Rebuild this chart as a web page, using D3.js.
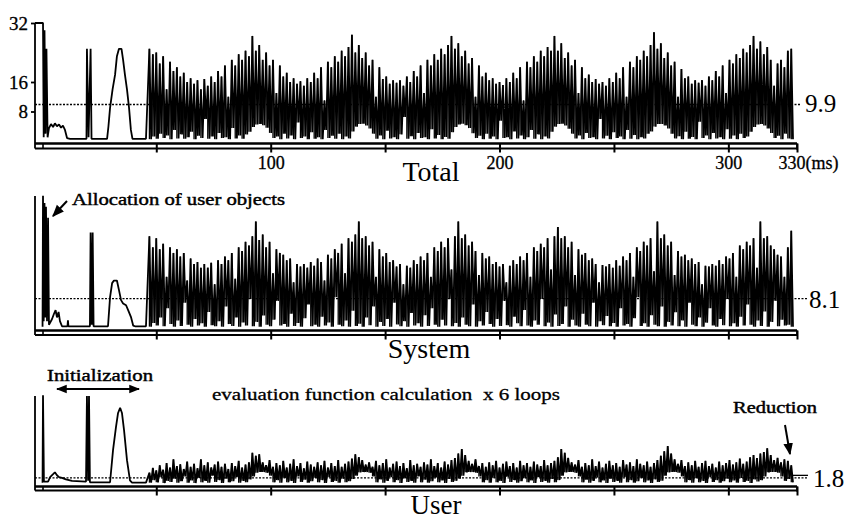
<!DOCTYPE html>
<html><head><meta charset="utf-8">
<script src="https://cdn.jsdelivr.net/npm/d3@7"></script>
<style>
body{margin:0;background:#fff}
svg{display:block}
text{font-family:"Liberation Serif","Times New Roman",serif;fill:#000}
</style>
</head><body>
<svg id="chart" width="849" height="519"></svg>
<script>
// ---------------- DATA ----------------
const panelNames = ["Total", "System", "User"];
const meanValues = [9.9, 8.1, 1.8];
const xTickValues = [50, 100, 150, 200, 250, 300, 330];
const xTickLabels = {100: "100", 200: "200", 300: "300", 330: "330(ms)"};
const yTickValues = [8, 16, 32];
const loopStart = 47;   // ms, first sample of the evaluation loops
const loopStep = 1.5;   // ms between samples

// Initialization phase (time in ms, value)
const totalInitT = [-3,0.5,0.8,1.15,1.6,2.0,2.5,3.1,4.0,4.9,5.7,6.6,7.5,8.4,9.2,10.1,11.0,12.3,19.5,19.7,20.4,21.3,21.7,28.5,29.1,29.8,30.9,32.0,32.8,33.7,34.8,35.5,36.3,37.2,38.1,38.9,39.6,45.5];
const totalInitV = [32,32,1,30,2,25,1,3.5,4.6,3.8,4.8,4.0,4.5,3.6,4.2,3.0,0.8,0.6,0.6,25,1,25,0.6,0.6,4,9,14,18,23,25,25,22,18,14,9,3,0.6,0.6];
const systemInitT = [0.3,0.5,0.8,1.15,1.5,1.8,2.25,2.7,3.1,4.4,5.3,6.0,6.6,7.3,7.9,8.8,11.2,11.4,11.6,21.0,21.3,21.8,22.2,22.6,28.9,29.8,30.7,31.5,32.8,33.7,34.6,35.5,36.8,37.7,39.0,39.9,40.7,45.5];
const systemInitV = [0.5,36,2,34,3,33,2,30,1,2.5,4,5,3,4.5,2,0.6,0.6,2.2,0.6,0.6,26,1,26,0.6,0.6,8.5,12.3,13,13,10.4,7.7,6.8,6.3,5,3,0.8,0.6,0.6];
const userInitT = [0.3,0.5,0.9,2.7,3.6,4.9,5.7,6.6,7.5,8.8,10.5,13.2,19.3,19.7,20.2,20.6,21.0,29.8,31.1,32.4,33.3,34.2,35.0,35.9,37.2,38.5,39.4,45.5];
const userInitV = [0.5,24.2,0.8,0.8,2,2.8,3.3,2.5,2,1.8,1.4,1.0,0.8,24,1,24,0.6,0.6,9.3,15.6,19.4,20.8,19.4,14.8,6.6,1.1,0.5,0.5];

// Evaluation loops: spike highs and lows per sample
const totalHi = [25,23.5,24,21,23,14,21.5,19,20,17.5, 18.5,16,17,15.5,16.5,14,16.8,15,17.5,16, 19,17.5,20.5,12,22,20.5,23.5,22,24.5,23,
 28.5,24.5,26,22,24,20.5,22,13,20.5,17.5, 18.5,16,17,15.5,16.2,15,17,16,18.5,17, 20,11,21.5,20,23,21.5,24.5,23,25.5,28.8,
 24,26,22.5,24,20.5,22,12,20,16.8,17.5, 15.5,16.5,15.8,16.5,15,17.5,16,19,17.5,20.5, 13,22,20.5,23.5,22,25,23.5,26,28.5,25,
 26.5,23,24.5,21,22.5,12,20.5,17.5,18.5,16.5, 17,15.5,16,15.2,17,16,18.5,17,20,11, 21.5,20,23,21.5,24.5,23,25.5,24.5,28.5,24.5,
 26.5,22.5,24,20.5,22,13,20,17,18,16, 16.8,15.5,16,15,17,16,18.5,17,20,12, 21.5,20,23,22,24.5,23,26,29.5,25,26.5,
 22.5,24,20.5,21.5,12,19.5,17,17.5,15.5,16.5, 15.8,16.5,15,17.5,16.5,19,17.5,20.5,13,22, 21,23.5,22.5,25,24,26,28.5,25,27,23.5,
 25.5,22,15,21,22,20,24.5,25];
const totalLo = [0.5,1.2,0.6,2.0,0.8,1.5,0.5,3.0,0.7,1.8, 0.6,1.0,2.5,0.5,1.4,0.8,6.0,0.6,1.2,0.5, 2.2,0.8,1.0,0.5,3.5,0.7,1.5,0.6,1.8,2.5,
 3.8,4.5,4.6,4.3,3.6,2.2,0.8,1.2,0.5,2.0, 0.7,1.5,0.5,5.0,0.8,1.2,0.5,2.4,0.6,1.0, 0.5,3.0,0.8,1.4,0.6,2.0,0.5,1.2,0.7,2.6,
 3.9,4.6,4.7,4.2,3.4,2.0,0.6,1.5,0.5,2.8, 0.7,1.0,0.5,1.8,6.5,0.6,1.3,0.5,2.2,0.8, 1.0,0.5,3.2,0.7,1.6,0.5,1.1,0.6,2.4,3.8,
 4.5,4.7,4.3,3.5,2.1,0.8,1.4,0.5,2.0,0.6, 1.2,0.5,5.5,0.8,1.0,0.5,2.6,0.7,1.5,0.5, 1.0,3.0,0.6,1.8,0.5,1.2,0.7,2.5,3.9,4.6,
 4.7,4.2,3.3,2.0,0.7,1.5,0.5,2.2,0.8,1.0, 0.5,6.0,0.7,1.4,0.5,2.4,0.8,1.2,0.5,3.0, 0.6,1.6,0.5,1.0,0.7,2.0,2.6,3.9,4.6,4.6,
 4.2,3.4,2.0,0.7,1.3,0.5,2.5,0.6,1.1,0.5, 5.2,0.8,1.5,0.5,2.2,0.7,1.0,0.5,3.2,0.6, 1.5,0.5,2.0,0.8,1.2,2.5,3.8,4.5,4.6,4.2,
 3.4,2.2,0.8,1.4,0.5,2.0,0.7,0.5];
const systemHi = [25,22,24.5,21.5,23,14,22,20.5,21.5,19.5, 20.5,13,19,17.5,18,16.5,17.5,16.5,17.8,12, 18.5,17.5,19.5,18.5,20.5,13.5,22,21,23.5,22.5,
 25,29,24,25.5,22,23.5,15,21.5,20.5,20, 18.5,19,12.5,17.5,16.8,17.5,16.5,18,17,19, 18,13,20,19,21.5,20.5,23,15,24.5,23.5,
 25.5,29,24.5,25,22.5,23.5,14,21.5,19.5,20.5, 18,18.5,16.8,17.5,12,17,16.5,18.5,17.5,19.5, 18.5,20.5,14,22,21,23.5,22,24.5,16,25,
 29,24.5,25.5,22.5,23.5,21,14.5,20.5,19,19.5, 17.5,18,16.8,17.5,12.5,17,18.5,17.5,19.5,18.5, 20.5,14,22,21,23,22,24.5,16,25,27.5,
 24.5,25,22,23.5,14.5,21.5,20,20.5,18.5,19, 17.5,12.5,17.2,16.8,17.5,16.5,18.5,17,19.5,18.5, 20.5,14,22,21,23.5,22.5,24.5,15.5,29,24.5,
 25.5,22.5,23.5,14.5,21,19.5,20,18.5,19,17.5, 18,12,17,16.8,17.5,17,18.5,17.5,19.5,19, 20.5,14,22.5,21.5,23.5,22.5,24.5,16.5,29,24.5,
 25,22.5,21.5,20,19.5,14,22,26.5];
const systemLo = [0.5,1.5,0.8,3.0,0.6,5.5,1.2,0.5,2.2,0.7, 7.0,1.0,0.5,2.6,0.8,1.4,0.5,4.5,0.9,0.6, 2.0,0.5,6.0,1.2,0.7,3.0,0.5,1.6,0.8,8.0,
 0.6,1.8,0.5,3.5,1.0,0.6,2.4,7.5,0.8,1.2, 0.5,4.0,0.7,1.5,0.5,2.8,6.5,0.6,1.0,0.5, 3.2,0.8,1.6,0.5,8.5,1.0,0.6,2.2,0.5,4.8,
 0.7,1.3,0.5,3.0,0.9,6.0,0.5,1.8,0.7,2.6, 0.5,7.0,1.1,0.6,2.0,0.5,4.2,0.8,1.4,0.5, 3.6,0.7,5.5,1.0,0.5,2.4,0.8,8.0,0.6,1.5,
 0.5,3.0,1.0,0.6,6.5,0.5,2.0,0.8,4.5,1.2, 0.5,2.6,0.7,7.5,0.9,0.5,3.2,1.4,0.6,5.0, 0.8,0.5,2.2,1.0,8.0,0.6,1.6,0.5,3.8,0.7,
 1.2,6.0,0.5,2.4,0.8,0.5,4.0,1.0,0.6,7.0, 0.5,2.0,0.9,3.4,0.6,1.5,0.5,5.5,0.8,1.2, 0.5,2.8,8.5,0.7,1.4,0.5,3.6,1.0,0.6,6.0,
 0.5,1.8,0.8,4.4,0.6,2.2,0.5,7.0,1.0,0.6, 3.0,0.5,1.6,5.5,0.8,0.5,2.6,0.9,8.0,0.6, 1.4,0.5,3.2,0.8,6.5,1.0,0.5,2.2,0.7,4.6,
 0.5,1.8,7.5,0.6,2.4,0.8,1.0,0.5];
const userHi = [3.2,4.5,3.8,5.2,4.0,5.8,4.6,6.8,5.0,5.5, 4.2,6.2,4.8,5.6,4.4,6.8,5.2,6.0,4.6,5.4, 6.2,4.8,5.6,4.2,5.8,5.0,6.4,4.6,5.4,6.0,
 8.6,7.8,8.2,6.0,5.2,6.6,4.8,5.8,5.2,6.4, 4.6,5.6,6.8,5.0,5.8,4.4,6.2,5.4,4.8,6.0, 5.2,6.4,4.6,5.8,5.0,6.6,4.8,5.6,6.2,7.0,
 8.2,7.4,6.6,5.4,6.0,4.8,6.4,5.2,5.8,6.8, 4.6,5.6,6.2,5.0,5.8,4.4,6.6,5.2,5.6,4.8, 6.0,5.4,6.8,5.0,5.8,4.6,6.2,5.4,6.6,7.2,
 8.4,9.6,8.0,6.4,5.6,6.8,5.0,5.8,4.8,6.0, 5.2,6.4,4.6,5.6,6.2,5.0,5.8,4.6,6.4,5.2, 5.8,4.8,6.2,5.4,5.0,6.6,5.2,5.8,6.4,7.4,
 9.6,8.6,7.2,6.0,5.4,6.6,4.8,5.8,5.2,6.8, 5.0,6.2,4.6,5.6,6.4,5.2,5.8,4.8,6.6,5.4, 6.0,5.0,6.8,5.6,5.2,6.2,4.8,5.8,6.6,7.8,
 9.0,10.4,8.4,6.8,5.6,6.6,5.0,6.0,5.2,6.4, 4.8,5.8,6.4,5.0,5.6,4.6,6.2,5.2,5.8,6.6, 5.4,6.0,7.0,5.6,6.2,7.4,8.0,7.2,8.4,8.8,
 9.8,8.0,6.6,7.2,6.0,6.8,6.4,5.2];
const userLo = [0.5,1.2,0.6,2.0,0.4,1.0,0.7,1.6,0.5,0.9, 2.2,0.5,1.1,0.4,1.8,0.6,1.0,0.5,2.4,0.7, 1.2,0.4,1.6,0.6,0.9,2.0,0.5,1.0,0.6,1.4,
 2.2,3.2,3.4,3.4,3.2,2.4,0.6,1.2,0.5,1.8, 0.6,1.0,0.4,2.2,0.7,1.3,0.5,0.9,1.8,0.6, 1.2,0.4,2.0,0.7,1.0,0.5,1.6,0.6,0.9,1.5,
 2.4,3.3,3.4,3.4,3.2,2.2,0.6,1.4,0.5,1.0, 2.0,0.6,1.2,0.4,1.7,0.7,1.0,0.5,2.2,0.6, 1.3,0.5,0.9,1.9,0.6,1.1,0.4,1.5,0.7,1.0,
 1.6,2.4,3.3,3.4,3.4,3.2,2.2,0.6,1.2,0.5, 1.8,0.6,1.0,0.4,2.1,0.7,1.2,0.5,0.9,1.7, 0.6,1.1,0.4,2.0,0.7,1.0,0.5,1.5,0.6,1.2,
 2.4,3.3,3.4,3.4,3.2,2.2,0.6,1.3,0.5,1.0, 1.9,0.6,1.1,0.4,1.6,0.7,1.0,0.5,2.0,0.6, 1.2,0.5,0.9,1.8,0.6,1.1,0.4,1.4,0.7,1.0,
 2.4,3.3,3.4,3.4,3.2,2.2,0.6,1.2,0.5,1.7, 0.6,1.0,0.4,2.0,0.7,1.2,0.5,0.9,1.6,0.6, 1.1,0.5,1.8,0.7,1.0,0.4,1.4,0.8,1.2,2.2,
 3.3,3.4,3.4,3.2,2.2,1.0,1.5,0.6];

// ---------------- DRAWING ----------------
const svg = d3.select("#chart");
const x = d3.scaleLinear().domain([-3, 330]).range([35, 797]);

const panels = [
  {name: panelNames[0], mean: meanValues[0], y0: 141,   frameTop: 23,  axisY: 143.5, axisY2: 148.5, initT: totalInitT,  initV: totalInitV,  hi: totalHi,  lo: totalLo,  labels: true},
  {name: panelNames[1], mean: meanValues[1], y0: 328.5, frameTop: 196, axisY: 330.5, axisY2: 335,   initT: systemInitT, initV: systemInitV, hi: systemHi, lo: systemLo, labels: false},
  {name: panelNames[2], mean: meanValues[2], y0: 484.5, frameTop: 396, axisY: 486.5, axisY2: 490.5, initT: userInitT,   initV: userInitV,   hi: userHi,   lo: userLo,   labels: false}
];

function buildPoints(p) {
  const pts = p.initT.map((t, i) => [t, p.initV[i]]);
  p.hi.forEach((h, i) => {
    const t = loopStart + i * loopStep;
    pts.push([t, h]);
    pts.push([t + loopStep / 2, p.lo[i]]);
  });
  return pts;
}

panels.forEach((p, pi) => {
  const y = d3.scaleLinear().domain([0, 32]).range([p.y0, p.y0 - 118]);
  const g = svg.append("g");

  // dashed mean line
  g.append("line")
    .attr("x1", x(-3)).attr("x2", pi === 0 ? 800 : 807)
    .attr("y1", y(p.mean)).attr("y2", y(p.mean))
    .attr("stroke", "#000").attr("stroke-width", 1.3).attr("stroke-dasharray", "2,1.5");
  if (pi === 2) {
    g.append("line").attr("x1", 793).attr("x2", 808).attr("y1", y(p.mean) - 2.5).attr("y2", y(p.mean) - 2.5)
      .attr("stroke", "#000").attr("stroke-width", 1.3);
  }

  // data trace (zigzag) + vertical spike strokes
  const line = d3.line().x(d => x(d[0])).y(d => y(d[1]));
  g.append("path").datum(buildPoints(p))
    .attr("d", line).attr("fill", "none").attr("stroke", "#000")
    .attr("stroke-width", 1.8).attr("stroke-linejoin", "bevel");
  g.append("g").selectAll("line").data(p.hi).join("line")
    .attr("x1", (h, i) => x(loopStart + i * loopStep)).attr("x2", (h, i) => x(loopStart + i * loopStep))
    .attr("y1", h => y(h)).attr("y2", (h, i) => y(p.lo[i]))
    .attr("stroke", "#000").attr("stroke-width", 1.3);

  // left frame
  g.append("line").attr("x1", x(-3)).attr("x2", x(-3))
    .attr("y1", p.frameTop).attr("y2", p.axisY2)
    .attr("stroke", "#000").attr("stroke-width", 1.8);

  // double bottom axis line
  [p.axisY, p.axisY2].forEach((yy, k) => {
    g.append("line").attr("x1", x(-3)).attr("x2", x(330))
      .attr("y1", yy).attr("y2", yy)
      .attr("stroke", "#000").attr("stroke-width", k === 0 ? 2.4 : 1.8);
  });
  g.append("line").attr("x1", x(330)).attr("x2", x(330))
    .attr("y1", p.axisY).attr("y2", p.axisY2 + 1).attr("stroke", "#000").attr("stroke-width", 1.8);
  g.append("line").attr("x1", x(0.5)).attr("x2", x(0.5))
    .attr("y1", p.axisY).attr("y2", p.axisY2).attr("stroke", "#000").attr("stroke-width", 1.6);

  // x ticks
  const xa = g.append("g").attr("transform", `translate(0,${p.axisY})`)
    .call(d3.axisBottom(x).tickValues(xTickValues).tickSize(9).tickPadding(4)
      .tickFormat(d => p.labels ? (xTickLabels[d] || "") : ""));
  xa.select(".domain").remove();
  xa.selectAll(".tick line").attr("stroke-width", 2);
  xa.selectAll(".tick text").attr("font-size", 18).attr("font-family", "Liberation Serif")
    .attr("stroke", "#000").attr("stroke-width", 0.3)
    .attr("text-anchor", d => d === 330 ? "start" : "middle")
    .attr("dx", d => d === 330 ? -19 : 0);

  // y ticks (only top panel)
  if (pi === 0) {
    const ya = g.append("g").attr("transform", `translate(${x(-3)},0)`)
      .call(d3.axisLeft(y).tickValues(yTickValues).tickSize(4).tickPadding(3));
    ya.select(".domain").remove();
    ya.selectAll(".tick line").attr("stroke-width", 1.8);
    ya.selectAll(".tick text").attr("font-size", 19).attr("font-family", "Liberation Serif")
      .attr("stroke", "#000").attr("stroke-width", 0.3);
  }

  // mean label
  g.append("text").attr("x", pi === 0 ? 805 : (pi === 1 ? 809 : 813))
    .attr("y", y(p.mean) + (pi === 0 ? 8 : 9)).attr("font-size", 25).text(p.mean.toFixed(1));
});

// panel titles
svg.append("text").attr("x", 431).attr("y", 181).attr("text-anchor", "middle").attr("font-size", 28).text(panelNames[0]);
svg.append("text").attr("x", 429).attr("y", 358).attr("text-anchor", "middle").attr("font-size", 28).text(panelNames[1]);
svg.append("text").attr("x", 436).attr("y", 514).attr("text-anchor", "middle").attr("font-size", 27).text(panelNames[2]);

// annotations
const defs = svg.append("defs");
defs.append("marker").attr("id", "ah").attr("viewBox", "0 0 10 10").attr("refX", 9).attr("refY", 5)
  .attr("markerWidth", 6).attr("markerHeight", 6).attr("orient", "auto-start-reverse")
  .append("path").attr("d", "M0,1 L10,5 L0,9 z").attr("fill", "#000");

const annoStyle = sel => sel.attr("font-size", 17).attr("stroke", "#000").attr("stroke-width", 0.45)
  .attr("lengthAdjust", "spacingAndGlyphs");

svg.append("text").attr("x", 72).attr("y", 205).call(annoStyle)
  .attr("textLength", 213).text("Allocation of user objects");
svg.append("line").attr("x1", 67).attr("y1", 201).attr("x2", 53).attr("y2", 216)
  .attr("stroke", "#000").attr("stroke-width", 2).attr("marker-end", "url(#ah)");

svg.append("text").attr("x", 47).attr("y", 381).call(annoStyle)
  .attr("textLength", 106).text("Initialization");
svg.append("line").attr("x1", 57).attr("y1", 389).attr("x2", 139).attr("y2", 389)
  .attr("stroke", "#000").attr("stroke-width", 1.8)
  .attr("marker-start", "url(#ah)").attr("marker-end", "url(#ah)");

svg.append("text").attr("x", 212).attr("y", 400).call(annoStyle).attr("stroke-width", 0.3)
  .attr("textLength", 348)
  .text("evaluation function calculation  x 6 loops").style("white-space", "pre");

svg.append("text").attr("x", 733).attr("y", 413).call(annoStyle)
  .attr("textLength", 84).text("Reduction");
svg.append("line").attr("x1", 785).attr("y1", 425).attr("x2", 790).attr("y2", 454)
  .attr("stroke", "#000").attr("stroke-width", 2).attr("marker-end", "url(#ah)");
</script>
</body></html>
